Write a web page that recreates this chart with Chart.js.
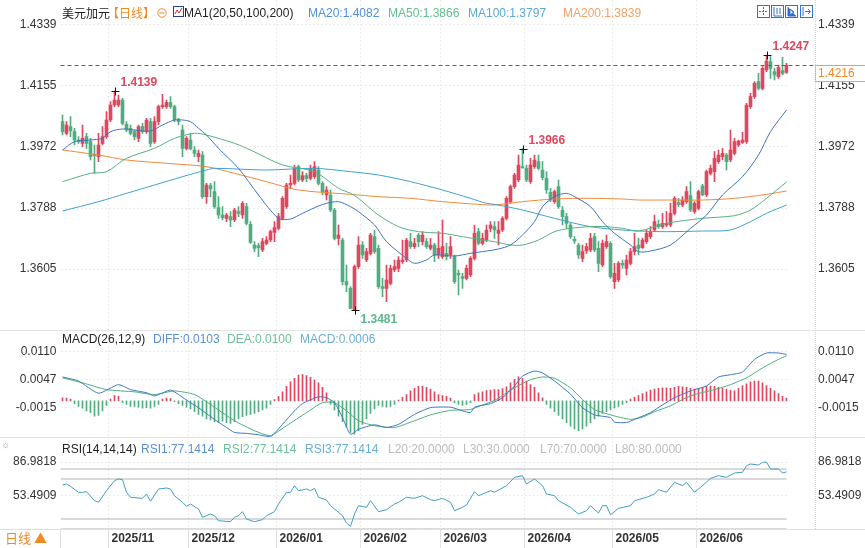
<!DOCTYPE html>
<html>
<head>
<meta charset="utf-8">
<title>美元加元 日线</title>
<script src="https://cdn.jsdelivr.net/npm/chart.js@4.4.1/dist/chart.umd.min.js"></script>
<style>
  body { margin: 0; background: #fff; }
  #wrap { position: relative; width: 865px; height: 548px; overflow: hidden;
          font-family: "Liberation Sans", Arial, "Noto Sans CJK SC", sans-serif; font-size: 12px; color: #222; }
  #wrap canvas { position: absolute; left: 0; }
  .t { position: absolute; white-space: nowrap; line-height: 14px; }
  .cjk { font-family: "Noto Sans CJK SC", sans-serif; }
  .sep { position: absolute; left: 0; width: 865px; height: 1px; background: #e3e3e3; }
  .ico { position: absolute; top: 5px; width: 11px; height: 11px; border: 1px solid #2f72d0; }
</style>
</head>
<body>
<div id="wrap">
  <canvas id="cMain" width="865" height="330" style="top:0"></canvas>
  <canvas id="cMacd" width="865" height="107" style="top:330px"></canvas>
  <canvas id="cRsi" width="865" height="111" style="top:437px"></canvas>

  <div class="sep" style="top:330px"></div>
  <div class="sep" style="top:437px"></div>
  <div style="position:absolute;left:815px;top:0;height:529px;border-left:1px dotted #d4d4d4"></div>

  <!-- main header -->
  <span class="t cjk" style="left:62px;top:6px">美元加元</span>
  <span class="t cjk" style="left:107px;top:6px;color:#f08a24">【日线】</span>
  <svg style="position:absolute;left:157px;top:8px" width="10" height="10"><circle cx="5" cy="5" r="4.2" fill="none" stroke="#f08a24"/><line x1="2.5" y1="5" x2="7.5" y2="5" stroke="#f08a24"/></svg>
  <svg style="position:absolute;left:173px;top:6px" width="11" height="11"><rect x="0.5" y="0.5" width="10" height="10" fill="#fff" stroke="#2a3f8a"/><polyline points="2,8 4,4 6,7 9,2" fill="none" stroke="#d0304a"/></svg>
  <span class="t" style="left:184px;top:6px">MA1(20,50,100,200)</span>
  <span class="t" style="left:308px;top:6px;color:#4f8fd8">MA20:1.4082</span>
  <span class="t" style="left:388px;top:6px;color:#5fc08e">MA50:1.3866</span>
  <span class="t" style="left:468px;top:6px;color:#5aaad6">MA100:1.3797</span>
  <span class="t" style="left:563px;top:6px;color:#f4a064">MA200:1.3839</span>
  <svg class="ico" style="left:757px" viewBox="0 0 11 11"><path d="M5.5 1v9M1 5.5h9" stroke="#2f72d0" stroke-dasharray="2 1"/></svg>
  <svg class="ico" style="left:771px" viewBox="0 0 11 11"><path d="M2 1v9h8M5 2v6M8 2v6" stroke="#2f72d0" fill="none"/></svg>
  <svg class="ico" style="left:785px" viewBox="0 0 11 11"><path d="M2 1v9h8M4 3l4 3-4 3z" stroke="#2f72d0" fill="#2f72d0"/></svg>
  <svg class="ico" style="left:800px" viewBox="0 0 11 11"><path d="M2 1v9M4 5.5h5M7 3l2.5 2.5L7 8" stroke="#2f72d0" fill="none"/></svg>

  <!-- macd header -->
  <span class="t" style="left:62px;top:332px">MACD(26,12,9)</span>
  <span class="t" style="left:153px;top:332px;color:#5b8fd6">DIFF:0.0103</span>
  <span class="t" style="left:227px;top:332px;color:#6cc196">DEA:0.0100</span>
  <span class="t" style="left:300px;top:332px;color:#6aaed9">MACD:0.0006</span>

  <!-- rsi header -->
  <span class="t" style="left:1px;top:438px;color:#999;font-size:10px">☼</span>
  <span class="t" style="left:62px;top:442px">RSI(14,14,14)</span>
  <span class="t" style="left:141px;top:442px;color:#5b8fd6">RSI1:77.1414</span>
  <span class="t" style="left:223px;top:442px;color:#6cc196">RSI2:77.1414</span>
  <span class="t" style="left:305px;top:442px;color:#6aaed9">RSI3:77.1414</span>
  <span class="t" style="left:388px;top:442px;color:#bbb">L20:20.0000</span>
  <span class="t" style="left:463px;top:442px;color:#bbb">L30:30.0000</span>
  <span class="t" style="left:540px;top:442px;color:#bbb">L70:70.0000</span>
  <span class="t" style="left:615px;top:442px;color:#bbb">L80:80.0000</span>

  <span class="t cjk" style="left:5px;top:530px;color:#f08a24;font-size:13px;line-height:16px">日线 ▲</span>
</div>

<script>
"use strict";
// ---- data ----
var monthStart = [12, 32, 54, 75, 95, 116, 138, 159];
var monthLabels = ['2025/11', '2025/12', '2026/01', '2026/02', '2026/03', '2026/04', '2026/05', '2026/06'];
var priceTicks = [1.4339, 1.4155, 1.3972, 1.3788, 1.3605];
var macdTicks = [0.0110, 0.0047, -0.0015];
var rsiTicks = [86.9818, 53.4909];
var rsiLevels = [20, 30, 70, 80];

var open = [
    1.4047,1.4012,1.4032,1.4017,1.3992,1.3982,1.4002,1.3987,1.3949,1.3942,
    1.3982,1.4002,1.4052,1.4097,1.4097,1.4112,1.4039,1.4027,1.4017,1.3997,
    1.4032,1.4017,1.4047,1.3987,1.4047,1.4092,1.4092,1.4104,1.4092,1.4052,
    1.4022,1.3967,1.3992,1.3962,1.3942,1.3947,1.3822,1.3855,1.3837,1.3789,
    1.3767,1.3757,1.3762,1.3752,1.3777,1.3767,1.3792,1.3739,1.3677,1.3675,
    1.3662,1.3682,1.3692,1.3715,1.3727,1.3757,1.3792,1.3857,1.3862,1.3912,
    1.3872,1.3885,1.3877,1.3882,1.3902,1.3862,1.3827,1.3827,1.3782,1.3697,
    1.3692,1.3567,1.3547,1.3482,1.3612,1.3677,1.3632,1.3652,1.3702,1.3667,
    1.3552,1.3547,1.3562,1.3602,1.3607,1.3627,1.3632,1.3687,1.3672,1.3707,
    1.3687,1.3687,1.3667,1.3677,1.3647,1.3642,1.3652,1.3647,1.3642,1.3592,
    1.3582,1.3577,1.3587,1.3637,1.3717,1.3682,1.3692,1.3727,1.3732,1.3712,
    1.3722,1.3757,1.3807,1.3852,1.3872,1.3912,1.3907,1.3867,1.3912,1.3927,
    1.3902,1.3877,1.3835,1.3807,1.3852,1.3782,1.3762,1.3737,1.3694,1.3677,
    1.3637,1.3659,1.3662,1.3702,1.3667,1.3617,1.3672,1.3682,1.3567,1.3572,
    1.3622,1.3607,1.3622,1.3657,1.3677,1.3669,1.3687,1.3702,1.3722,1.3739,
    1.3732,1.3737,1.3737,1.3772,1.3804,1.3797,1.3807,1.3825,1.3777,1.3787,
    1.3854,1.3827,1.3892,1.3897,1.3927,1.3942,1.3947,1.3932,1.3952,1.3977,
    1.3985,1.3987,1.4092,1.4122,1.4167,1.4147,1.4202,1.4227,1.4197,1.4182,
    1.4200,1.4195
];
var high = [
    1.4067,1.4047,1.4062,1.4027,1.4002,1.4037,1.4012,1.3997,1.3977,1.4012,
    1.4032,1.4077,1.4107,1.4139,1.4127,1.4117,1.4047,1.4037,1.4022,1.4037,
    1.4042,1.4057,1.4057,1.4062,1.4097,1.4129,1.4112,1.4122,1.4097,1.4057,
    1.4037,1.4002,1.4012,1.3972,1.3962,1.3957,1.3862,1.3862,1.3867,1.3822,
    1.3792,1.3772,1.3777,1.3787,1.3792,1.3807,1.3802,1.3747,1.3687,1.3682,
    1.3697,1.3702,1.3722,1.3747,1.3772,1.3822,1.3862,1.3887,1.3917,1.3917,
    1.3897,1.3892,1.3917,1.3927,1.3912,1.3867,1.3852,1.3842,1.3787,1.3737,
    1.3697,1.3617,1.3552,1.3617,1.3702,1.3687,1.3667,1.3712,1.3722,1.3677,
    1.3577,1.3617,1.3617,1.3632,1.3642,1.3692,1.3697,1.3712,1.3697,1.3712,
    1.3717,1.3697,1.3697,1.3682,1.3717,1.3752,1.3682,1.3702,1.3647,1.3602,
    1.3592,1.3617,1.3642,1.3737,1.3727,1.3712,1.3737,1.3747,1.3747,1.3747,
    1.3762,1.3822,1.3857,1.3892,1.3947,1.3966,1.3917,1.3937,1.3947,1.3947,
    1.3927,1.3897,1.3847,1.3842,1.3872,1.3792,1.3772,1.3742,1.3702,1.3682,
    1.3677,1.3682,1.3712,1.3712,1.3687,1.3692,1.3707,1.3687,1.3622,1.3627,
    1.3632,1.3647,1.3667,1.3712,1.3697,1.3697,1.3722,1.3732,1.3767,1.3752,
    1.3772,1.3777,1.3802,1.3822,1.3817,1.3822,1.3852,1.3867,1.3807,1.3842,
    1.3859,1.3902,1.3917,1.3957,1.3962,1.3967,1.3952,1.4022,1.3997,1.3992,
    1.4015,1.4102,1.4132,1.4167,1.4192,1.4212,1.4247,1.4242,1.4207,1.4217,
    1.4240,1.4222
];
var low = [
    1.4007,1.4007,1.4002,1.3977,1.3982,1.3972,1.3967,1.3932,1.3892,1.3927,
    1.3977,1.3997,1.4047,1.4092,1.4092,1.4037,1.4017,1.4007,1.3992,1.3987,
    1.4012,1.4012,1.3972,1.3982,1.4037,1.4087,1.4087,1.4087,1.4047,1.4037,
    1.3942,1.3962,1.3962,1.3942,1.3927,1.3817,1.3802,1.3822,1.3787,1.3757,
    1.3752,1.3747,1.3732,1.3747,1.3762,1.3757,1.3737,1.3682,1.3657,1.3642,
    1.3657,1.3677,1.3687,1.3687,1.3722,1.3752,1.3787,1.3847,1.3857,1.3867,
    1.3867,1.3867,1.3872,1.3877,1.3857,1.3827,1.3812,1.3777,1.3692,1.3677,
    1.3557,1.3537,1.3485,1.3481,1.3607,1.3637,1.3627,1.3647,1.3652,1.3547,
    1.3522,1.3507,1.3557,1.3597,1.3597,1.3622,1.3627,1.3667,1.3667,1.3672,
    1.3677,1.3667,1.3662,1.3627,1.3637,1.3637,1.3632,1.3637,1.3562,1.3527,
    1.3547,1.3572,1.3582,1.3632,1.3677,1.3677,1.3687,1.3717,1.3697,1.3677,
    1.3717,1.3752,1.3802,1.3847,1.3867,1.3907,1.3867,1.3862,1.3907,1.3902,
    1.3872,1.3832,1.3807,1.3802,1.3787,1.3737,1.3727,1.3697,1.3682,1.3637,
    1.3627,1.3652,1.3657,1.3657,1.3597,1.3612,1.3667,1.3577,1.3547,1.3567,
    1.3607,1.3587,1.3617,1.3647,1.3647,1.3667,1.3682,1.3697,1.3717,1.3727,
    1.3727,1.3732,1.3732,1.3767,1.3792,1.3792,1.3802,1.3777,1.3772,1.3782,
    1.3825,1.3822,1.3887,1.3867,1.3922,1.3932,1.3902,1.3927,1.3947,1.3972,
    1.3982,1.3982,1.4087,1.4117,1.4142,1.4142,1.4197,1.4177,1.4172,1.4177,
    1.4187,1.4192
];
var close = [
    1.4017,1.4037,1.4019,1.3992,1.3987,1.3997,1.3982,1.3942,1.3945,1.3977,
    1.4002,1.4052,1.4097,1.4112,1.4112,1.4042,1.4022,1.4012,1.4002,1.4032,
    1.4017,1.4052,1.3982,1.4047,1.4092,1.4097,1.4105,1.4092,1.4052,1.4047,
    1.3967,1.3997,1.3965,1.3952,1.3952,1.3822,1.3857,1.3845,1.3792,1.3767,
    1.3759,1.3767,1.3752,1.3782,1.3772,1.3802,1.3742,1.3685,1.3667,1.3669,
    1.3687,1.3692,1.3717,1.3729,1.3762,1.3817,1.3857,1.3862,1.3907,1.3872,
    1.3885,1.3877,1.3907,1.3912,1.3862,1.3837,1.3842,1.3782,1.3697,1.3707,
    1.3567,1.3557,1.3487,1.3612,1.3677,1.3647,1.3657,1.3707,1.3657,1.3552,
    1.3547,1.3572,1.3607,1.3612,1.3632,1.3632,1.3692,1.3672,1.3682,1.3687,
    1.3707,1.3672,1.3677,1.3647,1.3667,1.3672,1.3642,1.3672,1.3567,1.3587,
    1.3577,1.3607,1.3637,1.3712,1.3682,1.3697,1.3722,1.3737,1.3722,1.3722,
    1.3757,1.3817,1.3852,1.3887,1.3917,1.3909,1.3872,1.3917,1.3932,1.3907,
    1.3879,1.3842,1.3812,1.3837,1.3792,1.3762,1.3742,1.3702,1.3689,1.3647,
    1.3657,1.3672,1.3697,1.3662,1.3622,1.3682,1.3687,1.3582,1.3592,1.3622,
    1.3617,1.3632,1.3657,1.3672,1.3667,1.3692,1.3712,1.3717,1.3747,1.3732,
    1.3742,1.3742,1.3772,1.3817,1.3799,1.3812,1.3837,1.3782,1.3802,1.3837,
    1.3827,1.3897,1.3907,1.3937,1.3947,1.3952,1.3927,1.3962,1.3987,1.3989,
    1.3992,1.4097,1.4122,1.4162,1.4147,1.4207,1.4229,1.4207,1.4187,1.4209,
    1.4192,1.4216
];

// moving averages, [candle index, value]
var ma20 = [[0,1.3962],[3,1.3987],[7,1.3992],[10,1.3997],[12,1.4017],[15,1.4025],[18,1.4022],[22,1.4019],
    [25,1.4037],[28,1.4052],[30,1.4052],[32,1.4047],[34,1.4027],[36,1.4007],[39,1.3967],[44,1.3907],
    [49,1.3827],[54,1.3757],[57,1.3755],[60,1.3772],[64,1.3794],[66,1.3802],[69,1.3807],[72,1.3792],
    [74,1.3777],[78,1.3737],[81,1.3687],[86,1.3637],[88,1.3622],[91,1.3632],[93,1.3647],[98,1.3644],
    [102,1.3652],[106,1.3659],[109,1.3665],[112,1.3677],[115,1.3707],[118,1.3747],[120,1.3792],
    [123,1.3822],[126,1.3832],[128,1.3822],[132,1.3792],[135,1.3747],[138,1.3712],[142,1.3677],
    [144,1.3657],[147,1.3659],[152,1.3677],[157,1.3727],[161,1.3767],[165,1.3827],[170,1.3882],
    [174,1.3947],[177,1.4017],[181,1.4082]];
var ma50 = [[0,1.3867],[7,1.3892],[11,1.3897],[16,1.3937],[23,1.3967],[28,1.3997],[33,1.4012],[36,1.4007],
    [43,1.3982],[47,1.3962],[55,1.3917],[63,1.3897],[69,1.3847],[72,1.3832],[74,1.3817],[79,1.3767],
    [84,1.3732],[89,1.3717],[95,1.3712],[100,1.3702],[105,1.3692],[108,1.3687],[112,1.3677],[115,1.3677],
    [119,1.3692],[123,1.3717],[127,1.3727],[132,1.3732],[136,1.3732],[140,1.3727],[144,1.3719],
    [151,1.3742],[160,1.3757],[168,1.3765],[172,1.3782],[176,1.3817],[181,1.3866]];
var ma100 = [[0,1.3779],[9,1.3807],[16,1.3832],[23,1.3857],[30,1.3882],[36,1.3902],[38,1.3907],[51,1.3902],
    [63,1.3907],[72,1.3897],[79,1.3887],[87,1.3867],[95,1.3842],[102,1.3817],[106,1.3802],[108,1.3799],
    [115,1.3782],[123,1.3757],[132,1.3732],[140,1.3722],[144,1.3719],[151,1.3717],[160,1.3719],
    [167,1.3722],[172,1.3747],[176,1.3772],[181,1.3797]];
var ma200 = [[0,1.3962],[9,1.3947],[16,1.3932],[26,1.3922],[36,1.3912],[43,1.3892],[51,1.3867],[59,1.3842],
    [72,1.3829],[79,1.3822],[87,1.3817],[95,1.3807],[104,1.3799],[108,1.3797],[115,1.3807],[123,1.3815],
    [132,1.3817],[140,1.3815],[144,1.3812],[151,1.3812],[160,1.3812],[168,1.3817],[176,1.3829],[181,1.3839]];

// MACD(26,12,9)
var diff = [[0,0.0053],[4,0.0044],[9,0.0017],[14,0.0036],[17,0.0025],[21,0.0018],[23,0.0011],[27,0.0024],
    [29,0.0014],[32,-0.0004],[34,-0.0015],[38,-0.0041],[41,-0.0059],[43,-0.0070],[46,-0.0072],[49,-0.0075],
    [52,-0.0079],[55,-0.0052],[58,-0.0022],[60,-0.0006],[64,0.0009],[66,0.0007],[68,-0.0004],[70,-0.0037],
    [72,-0.0074],[74,-0.0063],[78,-0.0053],[81,-0.0059],[84,-0.0052],[88,-0.0030],[92,-0.0015],[97,-0.0014],
    [100,-0.0022],[102,-0.0026],[103,-0.0014],[107,-0.0006],[110,0.0007],[113,0.0033],[115,0.0055],
    [118,0.0066],[120,0.0062],[123,0.0044],[127,0.0015],[130,-0.0015],[133,-0.0031],[137,-0.0037],
    [138,-0.0047],[141,-0.0048],[143,-0.0041],[147,-0.0026],[150,-0.0009],[153,0.0007],[157,0.0022],
    [158,0.0025],[161,0.0033],[164,0.0053],[167,0.0058],[170,0.0064],[173,0.0092],[176,0.0106],
    [179,0.0106],[181,0.0103]];
var dea = [[0,0.0051],[5,0.0040],[11,0.0025],[18,0.0020],[23,0.0014],[28,0.0022],[33,0.0014],[37,-0.0008],
    [43,-0.0044],[48,-0.0066],[52,-0.0077],[56,-0.0055],[61,-0.0026],[65,-0.0004],[68,-0.0004],[71,-0.0022],
    [74,-0.0044],[78,-0.0055],[83,-0.0059],[88,-0.0044],[92,-0.0031],[97,-0.0021],[102,-0.0019],
    [105,-0.0009],[108,0.0001],[113,0.0029],[117,0.0047],[120,0.0053],[123,0.0050],[127,0.0029],
    [130,0.0003],[133,-0.0019],[137,-0.0031],[142,-0.0041],[145,-0.0036],[148,-0.0024],[152,-0.0011],
    [155,0.0003],[158,0.0014],[163,0.0025],[167,0.0036],[171,0.0051],[175,0.0073],[179,0.0092],[181,0.0100]];
var macdHist = [
    0.0007,0.0006,0.0004,-0.0006,-0.0012,-0.0016,-0.0022,-0.0026,-0.0034,-0.0032,
    -0.0022,-0.0010,0.0004,0.0012,0.0010,-0.0004,-0.0008,-0.0012,-0.0012,-0.0014,
    -0.0016,-0.0015,-0.0016,-0.0012,-0.0008,0.0004,0.0006,0.0005,-0.0002,-0.0006,
    -0.0010,-0.0014,-0.0018,-0.0024,-0.0030,-0.0034,-0.0040,-0.0042,-0.0046,-0.0048,
    -0.0045,-0.0048,-0.0050,-0.0046,-0.0040,-0.0035,-0.0032,-0.0030,-0.0028,-0.0024,
    -0.0020,-0.0016,-0.0008,0.0003,0.0010,0.0020,0.0032,0.0042,0.0050,0.0057,
    0.0058,0.0056,0.0052,0.0046,0.0040,0.0030,0.0018,-0.0008,-0.0020,-0.0034,
    -0.0046,-0.0058,-0.0070,-0.0074,-0.0066,-0.0052,-0.0040,-0.0028,-0.0018,-0.0010,
    -0.0012,-0.0014,-0.0012,-0.0008,0.0002,0.0008,0.0014,0.0022,0.0028,0.0032,
    0.0032,0.0030,0.0026,0.0020,0.0014,0.0012,0.0010,0.0006,-0.0004,-0.0008,
    -0.0010,-0.0008,-0.0004,0.0014,0.0018,0.0020,0.0023,0.0024,0.0025,0.0025,
    0.0027,0.0031,0.0040,0.0048,0.0053,0.0050,0.0044,0.0036,0.0030,0.0018,
    0.0007,-0.0008,-0.0016,-0.0024,-0.0032,-0.0040,-0.0048,-0.0056,-0.0062,-0.0066,
    -0.0062,-0.0056,-0.0048,-0.0040,-0.0034,-0.0028,-0.0024,-0.0020,-0.0016,-0.0012,
    -0.0008,-0.0004,0.0004,0.0008,0.0012,0.0016,0.0020,0.0024,0.0026,0.0028,
    0.0029,0.0029,0.0028,0.0030,0.0032,0.0031,0.0030,0.0028,0.0026,0.0028,
    0.0030,0.0032,0.0033,0.0032,0.0030,0.0028,0.0026,0.0024,0.0022,0.0028,
    0.0034,0.0038,0.0042,0.0044,0.0044,0.0040,0.0034,0.0028,0.0022,0.0016,
    0.0010,0.0006
];

// RSI(14), [candle index, value]
var rsi = [[0,64],[1,65],[2,62.7],[4,56.7],[5,56.7],[6,57.3],[8,48.3],[9,46.7],[11,58.3],[13,68.3],[14,70],
    [15,69.3],[16,56.7],[17,51.7],[19,51],[20,50.7],[21,55],[22,47.7],[24,60],[26,61],[27,60],[28,53.3],
    [30,46.7],[31,42.7],[32,45],[34,40],[35,31.7],[37,35],[38,33.3],[39,28.3],[42,27.3],[43,31.7],[44,33.3],
    [45,37.3],[46,30],[48,27.3],[50,29.3],[51,33.3],[53,37.3],[54,45],[56,56.7],[57,56.7],[58,63.3],[59,58.3],
    [61,60],[62,58.3],[63,60.7],[64,51.7],[66,49],[67,43.3],[69,36.7],[70,33.3],[71,26],[72,22.7],[73,35],
    [74,43.3],[76,41.7],[77,48.3],[79,37.3],[81,39.3],[83,45],[84,46.7],[86,51.7],[88,50.7],[90,53.3],
    [92,49.3],[93,48.3],[95,50.7],[97,46.7],[98,38.3],[100,41.7],[101,44],[103,57.3],[104,53.3],[107,58.3],
    [108,56.7],[111,63.3],[113,71.7],[115,73.3],[116,65],[118,70],[120,63.3],[121,55],[123,53.3],[124,48.3],
    [127,41.7],[129,35],[131,38.3],[132,43.3],[134,36],[135,43.3],[136,43.3],[137,34.3],[139,40.7],[142,43.3],
    [143,48.3],[146,51.7],[148,55],[149,59.3],[151,56.7],[153,66.7],[155,63.3],[156,66.7],[158,56.7],[159,60],
    [160,63.3],[162,70.7],[164,73.3],[166,71.7],[168,76],[170,76.7],[171,83.3],[172,85],[174,84],[175,86.7],
    [176,86.98],[177,80],[179,80],[180,76],[181,77.14]];

var highMarks = [13, 115, 176];
var lowMarks = [73];

// ---- styling ----
var UP = '#e0475d', DOWN = '#4fae80';
var FONT = '"Liberation Sans", Arial, sans-serif';
Chart.defaults.font.family = FONT;
Chart.defaults.font.size = 12;
Chart.defaults.color = '#333';
Chart.defaults.animation = false;
Chart.defaults.events = [];
Chart.defaults.plugins.legend.display = false;
Chart.defaults.plugins.tooltip.enabled = false;

var LEFT_W = 60.5, RIGHT_W = 76.5;
var last = open.length - 1;

function pts(arr) {
    return arr.map(function (p) { return {x: p[0], y: p[1]}; });
}

function xAxis(withLabels) {
    return {
        type: 'linear', min: -0.5, max: last + 0.5, offset: false,
        afterBuildTicks: function (s) { s.ticks = monthStart.map(function (v) { return {value: v - 0.5}; }); },
        afterFit: function (s) { s.height = withLabels ? 19 : 0; s.paddingLeft = 0; s.paddingRight = 0; },
        grid: {color: '#ececec', drawTicks: false, offset: false},
        border: {display: false, dash: [2, 2]},
        ticks: withLabels ? {
            autoSkip: false, maxRotation: 0, align: 'start', labelOffset: 3, padding: 2,
            color: '#333', font: {weight: 'bold', size: 12},
            callback: function (v, i) { return monthLabels[i]; }
        } : {display: false}
    };
}

function yAxis(pos, min, max, tickVals) {
    var left = pos === 'left';
    return {
        position: pos, min: min, max: max,
        afterBuildTicks: function (s) { s.ticks = tickVals.map(function (v) { return {value: v}; }); },
        afterFit: function (s) { s.width = left ? LEFT_W : RIGHT_W; s.paddingTop = 0; s.paddingBottom = 0; },
        grid: {display: left, color: '#ececec', drawTicks: false},
        border: {display: false, dash: [2, 2]},
        ticks: {padding: left ? 4 : 29.5, color: '#333', callback: function (v) { return v.toFixed(4); }}
    };
}

function maLine(data, color) {
    return {type: 'line', data: pts(data), borderColor: color, borderWidth: 1, pointRadius: 0,
            tension: 0.3, yAxisID: 'yL', order: 0};
}

// current price line, price box, extreme markers
var mainDecor = {
    id: 'mainDecor',
    afterDraw: function (chart) {
        var ctx = chart.ctx, area = chart.chartArea, xs = chart.scales.x, ys = chart.scales.yL;
        var lastPrice = close[last];
        var ly = Math.round(ys.getPixelForValue(lastPrice)) + 0.5;
        ctx.save();
        ctx.lineWidth = 1;
        ctx.strokeStyle = '#2b6cc4';
        ctx.setLineDash([4, 3]);
        ctx.beginPath(); ctx.moveTo(area.left, ly); ctx.lineTo(area.right + 27, ly); ctx.stroke();
        ctx.setLineDash([]);
        ctx.fillStyle = '#fff';
        ctx.fillRect(area.right + 27, ly, 60, 16);
        ctx.strokeStyle = '#f0a050';
        ctx.strokeRect(area.right + 27, ly, 60, 16);
        ctx.fillStyle = '#f08a30';
        ctx.font = '12px ' + FONT;
        ctx.textBaseline = 'middle';
        ctx.textAlign = 'left';
        ctx.fillText(lastPrice.toFixed(4), area.right + 29.5, ly + 8.5);

        function mark(i, val, color, dy) {
            var x = Math.round(xs.getPixelForValue(i)) + 0.5, y = Math.round(ys.getPixelForValue(val)) + 0.5;
            ctx.strokeStyle = '#111';
            ctx.beginPath();
            ctx.moveTo(x - 4, y); ctx.lineTo(x + 4, y);
            ctx.moveTo(x, y - 4); ctx.lineTo(x, y + 4);
            ctx.stroke();
            ctx.fillStyle = color;
            ctx.font = 'bold 12px ' + FONT;
            ctx.fillText(val.toFixed(4), x + 5, y + dy);
        }
        highMarks.forEach(function (i) { mark(i, high[i], '#e0475d', -9); });
        lowMarks.forEach(function (i) { mark(i, low[i], '#5cb88a', 9); });
        ctx.restore();
    }
};

var candleColor = function (c) { return close[c.dataIndex] >= open[c.dataIndex] ? UP : DOWN; };
var idx = open.map(function (_, i) { return i; });

new Chart(document.getElementById('cMain'), {
    type: 'bar',
    data: {
        datasets: [
            {data: idx.map(function (i) { return {x: i, y: [low[i], high[i]]}; }), backgroundColor: candleColor,
             barThickness: 1, grouped: false, yAxisID: 'yL', order: 2},
            {data: idx.map(function (i) { return {x: i, y: [open[i], close[i]]}; }), backgroundColor: candleColor,
             barThickness: 3, minBarLength: 1, grouped: false, yAxisID: 'yL', order: 1},
            maLine(ma20, '#3d72c6'),
            maLine(ma50, '#52b27e'),
            maLine(ma100, '#3ea2cc'),
            maLine(ma200, '#f08a3a')
        ]
    },
    options: {
        responsive: false, devicePixelRatio: 1, layout: {padding: 0},
        scales: {x: xAxis(false), yL: yAxis('left', 1.3422, 1.4412, priceTicks), yR: yAxis('right', 1.3422, 1.4412, priceTicks)}
    },
    plugins: [mainDecor]
});

new Chart(document.getElementById('cMacd'), {
    type: 'bar',
    data: {
        datasets: [
            {data: macdHist.map(function (v, i) { return {x: i, y: v}; }),
             backgroundColor: function (c) { return macdHist[c.dataIndex] >= 0 ? UP : DOWN; },
             barThickness: 1, yAxisID: 'yL', order: 2},
            {type: 'line', data: pts(diff), borderColor: '#3d78c9', borderWidth: 1, pointRadius: 0, tension: 0.2, yAxisID: 'yL', order: 0},
            {type: 'line', data: pts(dea), borderColor: '#4cae7c', borderWidth: 1, pointRadius: 0, tension: 0.2, yAxisID: 'yL', order: 1}
        ]
    },
    options: {
        responsive: false, devicePixelRatio: 1, layout: {padding: 0},
        scales: {x: xAxis(false), yL: yAxis('left', -0.0080, 0.0157, macdTicks), yR: yAxis('right', -0.0080, 0.0157, macdTicks)}
    }
});

// bottom date row frame
var dateRow = {
    id: 'dateRow',
    beforeDraw: function (chart) {
        var ctx = chart.ctx, area = chart.chartArea, xs = chart.scales.x;
        var b = Math.round(area.bottom) + 0.5;
        ctx.save();
        ctx.strokeStyle = '#e0e0e0';
        ctx.lineWidth = 1;
        ctx.beginPath();
        ctx.moveTo(0, b); ctx.lineTo(chart.width, b);
        ctx.moveTo(60.5, b); ctx.lineTo(60.5, chart.height);
        xs.ticks.forEach(function (t) {
            var px = Math.floor(xs.getPixelForValue(t.value)) + 0.5;
            ctx.moveTo(px, b); ctx.lineTo(px, chart.height);
        });
        ctx.stroke();
        ctx.restore();
    }
};

var levelSets = rsiLevels.map(function (lv) {
    return {data: [{x: -0.5, y: lv}, {x: last, y: lv}], borderColor: '#b4b4b4', borderWidth: 1,
            pointRadius: 0, yAxisID: 'yL', order: 1};
});

new Chart(document.getElementById('cRsi'), {
    type: 'line',
    data: {
        datasets: levelSets.concat([
            {data: pts(rsi), borderColor: '#3f9fc4', borderWidth: 1, pointRadius: 0, tension: 0, yAxisID: 'yL', order: 0}
        ])
    },
    options: {
        responsive: false, devicePixelRatio: 1, layout: {padding: 0},
        scales: {x: xAxis(true), yL: yAxis('left', 20, 112, rsiTicks), yR: yAxis('right', 20, 112, rsiTicks)}
    },
    plugins: [dateRow]
});
</script>
</body>
</html>
